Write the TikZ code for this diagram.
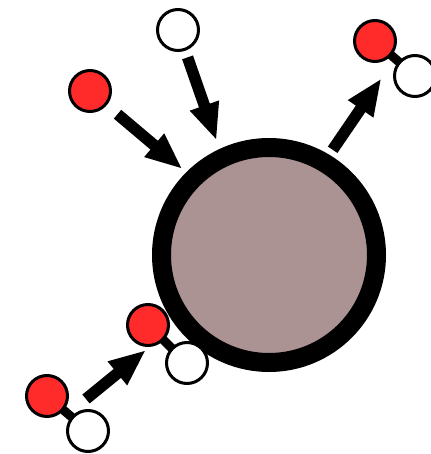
\documentclass[tikz,border=0pt]{standalone}
\usetikzlibrary{arrows.meta,calc}
\definecolor{particle}{RGB}{171,147,147}
\definecolor{oxy}{RGB}{255,43,43}
\tikzset{
  core/.style={circle, draw=black, fill=particle, line width=19pt, minimum size=215pt, inner sep=0pt},
  redatom/.style={circle, draw=black, fill=oxy, line width=3pt, minimum size=41pt, inner sep=0pt},
  whiteatom/.style={circle, draw=black, fill=white, line width=3pt, minimum size=41pt, inner sep=0pt},
  bond/.style={draw=black, line width=9pt},
  flow/.style={draw=black, line width=11.5pt, -{Triangle[length=37pt, width=28pt]}}
}
\begin{document}
\begin{tikzpicture}[x=1pt, y=-1pt]
\useasboundingbox (0,0) rectangle (430,454);
\fill[white] (0,0) rectangle (430,454);

% central particle
\node[core] (big) at (269,255) {};

% molecule positions
\coordinate (pr2) at (375,41);
\coordinate (pw2) at (415,76);
\coordinate (pr3) at (148,325);
\coordinate (pw3) at (187,363);
\coordinate (pr4) at (47,396);
\coordinate (pw4) at (88,431);

% bonds
\draw[bond] (pr2) -- (pw2);
\draw[bond] (pr3) -- (pw3);
\draw[bond] (pr4) -- (pw4);

% atoms
\node[redatom] (r1) at (90,91) {};
\node[whiteatom] (w1) at (178,30) {};
\node[redatom] (r2) at (pr2) {};
\node[whiteatom] (w2) at (pw2) {};
\node[redatom] (r3) at (pr3) {};
\node[whiteatom] (w3) at (pw3) {};
\node[redatom] (r4) at (pr4) {};
\node[whiteatom] (w4) at (pw4) {};

% bond midpoints and free arrow ends
\coordinate (m2) at ($(r2)!0.5!(w2)$);
\coordinate (a4s) at (86,399);
\coordinate (a4e) at (146,350);

% arrows
\draw[flow, shorten <=14pt, shorten >=5pt] (r1) -- (big.135);
\draw[flow, shorten <=7pt, shorten >=9pt] (w1) -- (big.115);
\draw[flow, shorten <=6pt, shorten >=24pt] (big.59) -- (m2);
\draw[flow] (a4s) -- (a4e);
\end{tikzpicture}
\end{document}
